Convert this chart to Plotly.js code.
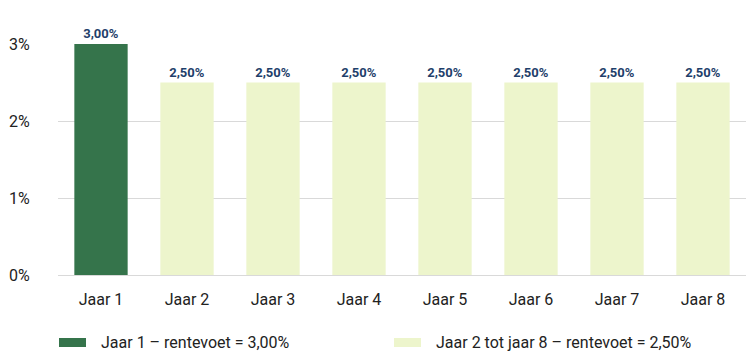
<!DOCTYPE html>
<html>
<head>
<meta charset="utf-8">
<script src="https://cdn.plot.ly/plotly-3.0.1.min.js"></script>
<style>html,body{margin:0;padding:0;background:#fff;}#chart{width:753px;height:359px;}</style>
</head>
<body>
<div id="chart"></div>
<script>
const categories = ["Jaar 1","Jaar 2","Jaar 3","Jaar 4","Jaar 5","Jaar 6","Jaar 7","Jaar 8"];
const year1Cats = ["Jaar 1"];
const year1Values = [3.00];
const laterCats = ["Jaar 2","Jaar 3","Jaar 4","Jaar 5","Jaar 6","Jaar 7","Jaar 8"];
const laterValues = [2.50, 2.50, 2.50, 2.50, 2.50, 2.50, 2.50];
const seriesNames = ["Jaar 1 – rentevoet = 3,00%", "Jaar 2 tot jaar 8 – rentevoet = 2,50%"];
const seriesColors = ["#35744B", "#EDF5CC"];
const yTicks = [0, 1, 2, 3];
const yTickText = yTicks.map(v => v + "%");

const font = "Roboto, 'Open Sans', sans-serif";
const labelFont = {family: font, size: 13, color: "#1F3F6B", weight: 700};
const labelTemplate = "<b>%{y:.2f}%</b>";

const traces = [
  {type: "bar", x: year1Cats, y: year1Values, name: seriesNames[0],
   marker: {color: seriesColors[0]}, width: 0.62,
   texttemplate: labelTemplate, textposition: "outside", textfont: labelFont,
   cliponaxis: false, hoverinfo: "skip"},
  {type: "bar", x: laterCats, y: laterValues, name: seriesNames[1],
   marker: {color: seriesColors[1]}, width: 0.62,
   texttemplate: labelTemplate, textposition: "outside", textfont: labelFont,
   cliponaxis: false, hoverinfo: "skip"}
];

// manual legend (plot area: x 58..746 px, y 44..275 px)
const W = 688, H = 231, L = 58, B = 275;
const px = x => (x - L) / W;
const py = y => (B - y) / H;
const legendItems = [
  {sx0: 59, sx1: 86, tx: 99},
  {sx0: 394, sx1: 421, tx: 434}
];
const shapes = legendItems.map((it, i) => ({
  type: "rect", xref: "paper", yref: "paper",
  x0: px(it.sx0), x1: px(it.sx1), y0: py(347), y1: py(338),
  fillcolor: seriesColors[i], line: {width: 0}
}));
const annotations = legendItems.map((it, i) => ({
  xref: "paper", yref: "paper", x: px(it.tx), y: py(342.5),
  xanchor: "left", yanchor: "middle", showarrow: false,
  text: seriesNames[i], font: {family: font, size: 16, color: "#222"}
}));

const layout = {
  width: 753, height: 359,
  margin: {l: 58, r: 7, t: 44, b: 84},
  separators: ",.",
  barmode: "overlay",
  paper_bgcolor: "#fff", plot_bgcolor: "#fff",
  font: {family: font, size: 16, color: "#222"},
  showlegend: false,
  shapes: shapes,
  annotations: annotations,
  xaxis: {type: "category", categoryarray: categories, categoryorder: "array",
          showgrid: false, zeroline: false, showline: false,
          ticks: "outside", ticklen: 10, tickcolor: "rgba(0,0,0,0)",
          tickfont: {family: font, size: 16, color: "#222"}},
  yaxis: {range: [0, 3], tickmode: "array", tickvals: yTicks, ticktext: yTickText,
          showgrid: true, gridcolor: "#d9d9d9", gridwidth: 1,
          zeroline: true, zerolinecolor: "#d9d9d9", zerolinewidth: 1,
          showline: false, ticks: "outside", ticklen: 24, tickcolor: "rgba(0,0,0,0)",
          tickfont: {family: font, size: 16, color: "#222"}}
};

Plotly.newPlot("chart", traces, layout, {displayModeBar: false, staticPlot: true});
</script>
</body>
</html>
